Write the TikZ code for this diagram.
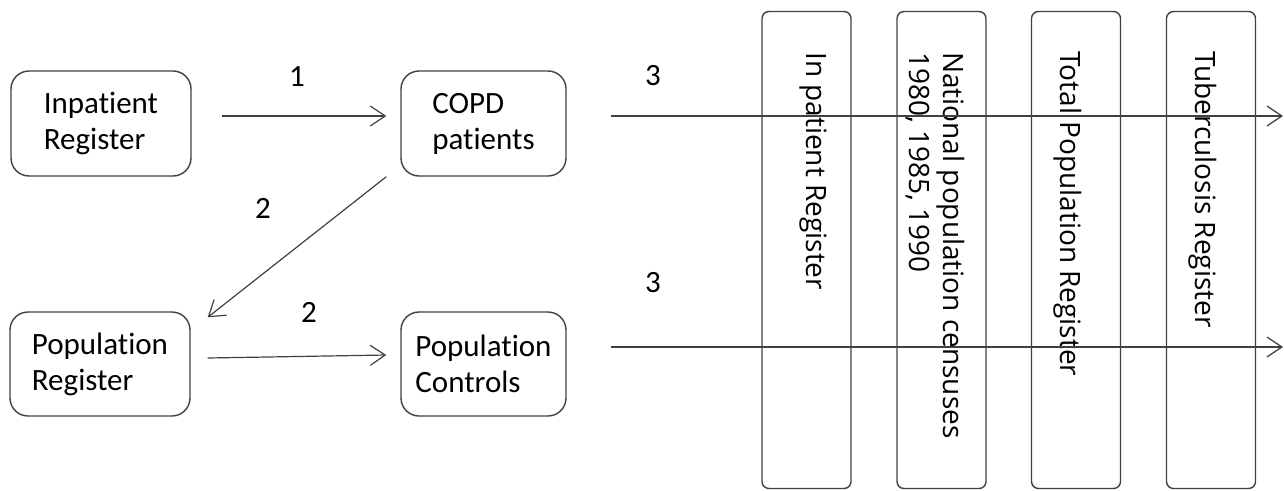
\documentclass[tikz,border=0pt]{standalone}
\usepackage{fontspec}
\setmainfont[Ligatures=NoCommon]{Carlito}
\newfontfamily\vfont{Open Sans}
\usetikzlibrary{arrows.meta}
\definecolor{ln}{HTML}{404040}
\begin{document}
\begin{tikzpicture}[x=1pt,y=-1pt,
  box/.style={draw=ln,line width=1.4pt,rounded corners=18pt,align=left,font=\fontsize{31}{36}\selectfont,inner sep=0pt},
  vbox/.style={draw=ln,line width=1.4pt,rounded corners=7pt,minimum width=89pt,minimum height=477pt,inner sep=0pt},
  vtxt/.style={rotate=-90,anchor=west,align=left,font=\vfont\fontsize{28}{34}\selectfont,inner sep=0pt},
  lbl/.style={font=\fontsize{31}{36}\selectfont,inner sep=0pt},
  conn/.style={draw=ln,line width=1.2pt,-{Straight Barb[length=15pt,width=20pt,line width=1.2pt]}}]
\useasboundingbox (0,0) rectangle (1284,490);
% left boxes
\node[box,minimum width=180pt,minimum height=105pt] (ir) at (101,123.5) {Inpatient\\Register};
\node[box,minimum width=165pt,minimum height=105pt] (copd) at (483.5,123.5) {COPD\\patients};
\node[box,minimum width=180pt,minimum height=104pt] (pr) at (100,364) {Population\\Register};
\node[box,minimum width=165pt,minimum height=104pt] (pc) at (483.5,364) {Population\\Controls};
% vertical boxes
\node[vbox] (v1) at (806.5,250) {};
\node[vbox] (v2) at (941.5,250) {};
\node[vbox] (v3) at (1076,250) {};
\node[vbox] (v4) at (1211,250) {};
\node[vtxt] (t1) at (813,52) {In patient Register};
\node[vtxt] (t2) at (935,52) {National population censuses\\1980, 1985, 1990};
\node[vtxt] (t3) at (1068,51) {Total Population Register};
\node[vtxt] (t4) at (1203,51) {Tuberculosis Register};
% end coordinates
\coordinate (e1) at (1283,116);
\coordinate (e2) at (1283,347);
% connectors
\draw[conn] ([xshift=30pt]ir.east |- 0,116) -- ([xshift=-14pt]copd.west |- 0,116);
\draw[conn] ([xshift=-14pt,yshift=0pt]copd.south west) -- ([xshift=17pt,yshift=-6pt]pr.north east);
\draw[conn] ([xshift=17pt]pr.east |- 0,358) -- ([xshift=-14pt]pc.west |- 0,355);
\draw[conn] ([xshift=44pt]copd.east |- 0,116) -- (e1);
\draw[conn] ([xshift=44pt]pc.east |- 0,347) -- (e2);
% labels
\node[lbl] (l1) at (297,77) {1};
\node[lbl] (l2) at (263,208) {2};
\node[lbl] (l3) at (309,312) {2};
\node[lbl] (l4) at (653,76) {3};
\node[lbl] (l5) at (653,283) {3};
\end{tikzpicture}
\end{document}
